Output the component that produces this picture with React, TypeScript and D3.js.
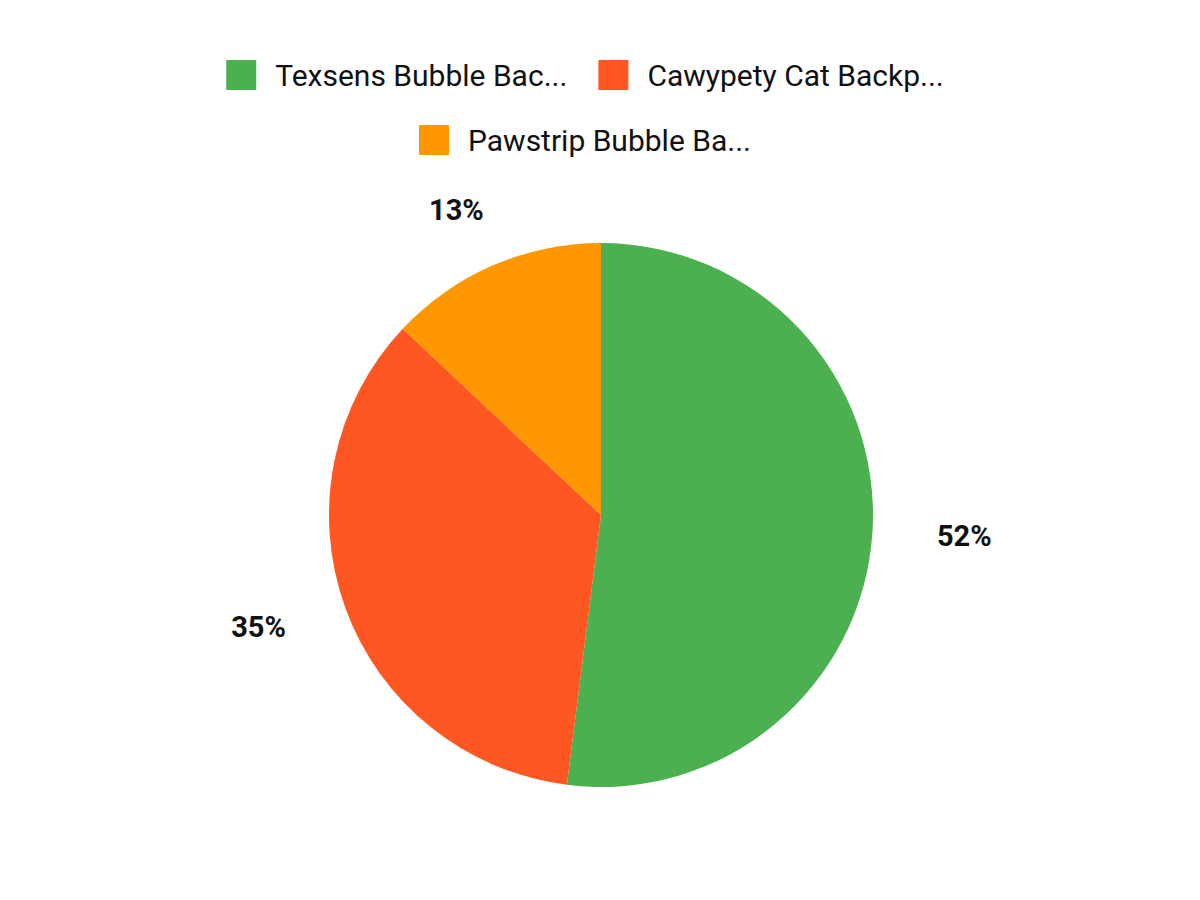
import { useEffect, useRef } from "react";
import * as d3 from "d3";

// ── Data ───────────────────────────────────────────────────────
const labels = ["Texsens Bubble Bac...", "Cawypety Cat Backp...", "Pawstrip Bubble Ba..."];
const values = [52, 35, 13];
const colors = ["#4CAF50", "#FF5722", "#FF9800"];

export default function App() {
  const svgRef = useRef<SVGSVGElement>(null);

  useEffect(() => {
    document.body.style.margin = "0";
    if (!svgRef.current) return;
    const svg = d3.select(svgRef.current);
    svg.selectAll("*").remove();

    const width = 1200;
    const height = 900;
    const cx = 601;
    const cy = 515;
    const radius = 272;
    const font = "Roboto, 'Noto Sans', sans-serif";

    svg.attr("width", width).attr("height", height)
      .attr("viewBox", `0 0 ${width} ${height}`)
      .style("background", "white")
      .style("display", "block");

    // ── Pie ─────────────────────────────────────────────────────
    const pie = d3.pie<number>().value((d) => d).sort(null);
    const arcs = pie(values);
    const arc = d3.arc<d3.PieArcDatum<number>>().innerRadius(0).outerRadius(radius);

    const g = svg.append("g").attr("transform", `translate(${cx},${cy})`);
    g.selectAll("path")
      .data(arcs)
      .join("path")
      .attr("d", arc)
      .attr("fill", (_, i) => colors[i]);

    // ── Percent labels (outside, on an ellipse) ─────────────────
    const rx = 364;
    const ry = 332;
    const total = d3.sum(values);
    g.selectAll("text.pct")
      .data(arcs)
      .join("text")
      .attr("class", "pct")
      .attr("x", (d) => rx * Math.sin((d.startAngle + d.endAngle) / 2))
      .attr("y", (d) => -ry * Math.cos((d.startAngle + d.endAngle) / 2))
      .attr("text-anchor", "middle")
      .attr("dominant-baseline", "central")
      .attr("font-family", font)
      .attr("font-size", 29)
      .attr("font-weight", "bold")
      .attr("fill", "#111")
      .text((d) => `${Math.round((d.value / total) * 100)}%`);

    // ── Legend ──────────────────────────────────────────────────
    const legendCenter = 585;
    const box = 30;
    const boxGap = 19;
    const itemGap = 31;
    const rows = [[0, 1], [2]];
    const rowY = [75, 140];

    rows.forEach((row, ri) => {
      const rowG = svg.append("g");
      let x = 0;
      row.forEach((idx) => {
        const item = rowG.append("g").attr("transform", `translate(${x},0)`);
        item.append("rect")
          .attr("x", 0).attr("y", rowY[ri] - box / 2)
          .attr("width", box).attr("height", box)
          .attr("fill", colors[idx]);
        const t = item.append("text")
          .attr("x", box + boxGap)
          .attr("y", rowY[ri])
          .attr("dominant-baseline", "central")
          .attr("font-family", font)
          .attr("font-size", 30)
          .attr("fill", "#111")
          .text(labels[idx]);
        const w = (t.node() as SVGTextElement).getComputedTextLength();
        x += box + boxGap + w + itemGap;
      });
      const rowWidth = x - itemGap;
      rowG.attr("transform", `translate(${legendCenter - rowWidth / 2},0)`);
    });
  }, []);

  return <svg ref={svgRef} />;
}
